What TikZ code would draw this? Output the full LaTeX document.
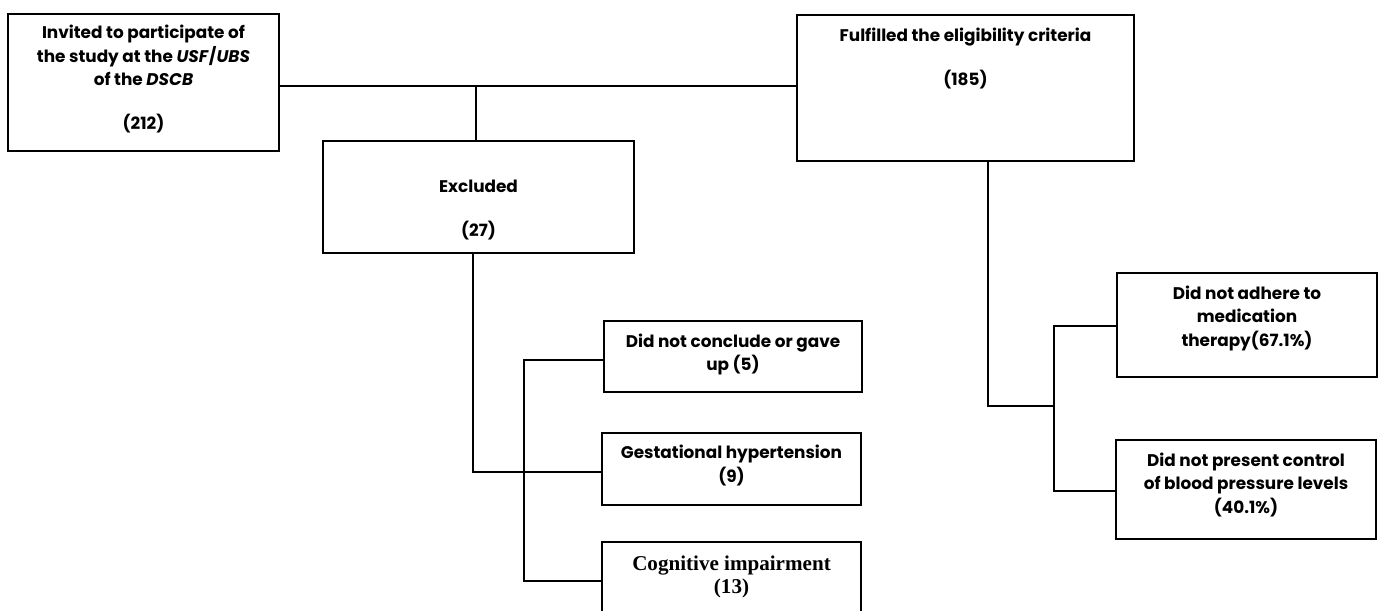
\documentclass[tikz,border=0pt]{standalone}
\usepackage{fontspec}
\setmainfont{Poppins}
\newfontfamily\timesfont{Liberation Serif}
\usetikzlibrary{calc,positioning}

% box body: width, height, top gap, text
\newcommand{\cellbody}[4]{\parbox[c][#2][t]{#1}{\centering\vspace*{#3}#4}}

\tikzset{
	flowbox/.style={draw, line width=1pt, inner sep=0pt, font=\bfseries\fontsize{9.6}{13.2}\selectfont},
	flowline/.style={line width=1pt},
}

\begin{document}
\begin{tikzpicture}[x=0.02cm,y=-0.02cm]
	\clip (0,0) rectangle (1383,610);
	
	%top row
	\node[flowbox] (invited) at (143.5,82.5)
		{\cellbody{5.42cm}{2.74cm}{6.5pt}{Invited to participate of\\ the study at the \textit{USF}/\textit{UBS}\\ of the \textit{DSCB}\\[12pt] (212)}};
	\node[flowbox] (fulfilled) at (965.5,88)
		{\cellbody{6.74cm}{2.92cm}{7.5pt}{Fulfilled the eligibility criteria\\[12pt] (185)}};
	\node[flowbox] (excluded) at (478.5,197)
		{\cellbody{6.22cm}{2.24cm}{22pt}{Excluded\\[12pt] (27)}};
	
	%excluded reasons
	\node[flowbox] (conclude) at (733,356.5)
		{\cellbody{5.16cm}{1.42cm}{7.5pt}{Did not conclude or gave\\ up (5)}};
	\node[flowbox] (gestational) at (731.5,469)
		{\cellbody{5.18cm}{1.44cm}{7pt}{Gestational hypertension\\ (9)}};
	\node[flowbox] (cognitive) at (731.5,582)
		{\cellbody{5.18cm}{1.6cm}{8pt}{\timesfont\fontsize{12}{13.2}\selectfont Cognitive impairment\\ (13)}};
	
	%fulfilled outcomes
	\node[flowbox] (adhere) at (1247,325)
		{\cellbody{5.2cm}{2.08cm}{7.5pt}{Did not adhere to\\ medication\\ therapy(67.1\%)}};
	\node[flowbox] (present) at (1246,489.5)
		{\cellbody{5.2cm}{1.98cm}{7.5pt}{Did not present control\\ of blood pressure levels\\ (40.1\%)}};
	
	%bus points
	\coordinate (exbus) at (524,472);
	\coordinate (ffbus) at (1054,406);
	
	%lines
	\draw[flowline] (invited.east |- 0,86) -- (fulfilled.west |- 0,86);
	\draw[flowline] ([xshift=-0.05cm]excluded.north) -- ([xshift=-0.05cm]excluded.north |- 0,86);
	\draw[flowline] ([xshift=-0.11cm]excluded.south) |- (gestational.west |- 0,472);
	\draw[flowline] (conclude.west |- 0,360) -| (exbus) |- (cognitive.west |- 0,581);
	\draw[flowline] ([xshift=0.45cm]fulfilled.south) |- (ffbus);
	\draw[flowline] (adhere.west |- 0,326) -| (ffbus) |- (present.west |- 0,491);
\end{tikzpicture}
\end{document}
